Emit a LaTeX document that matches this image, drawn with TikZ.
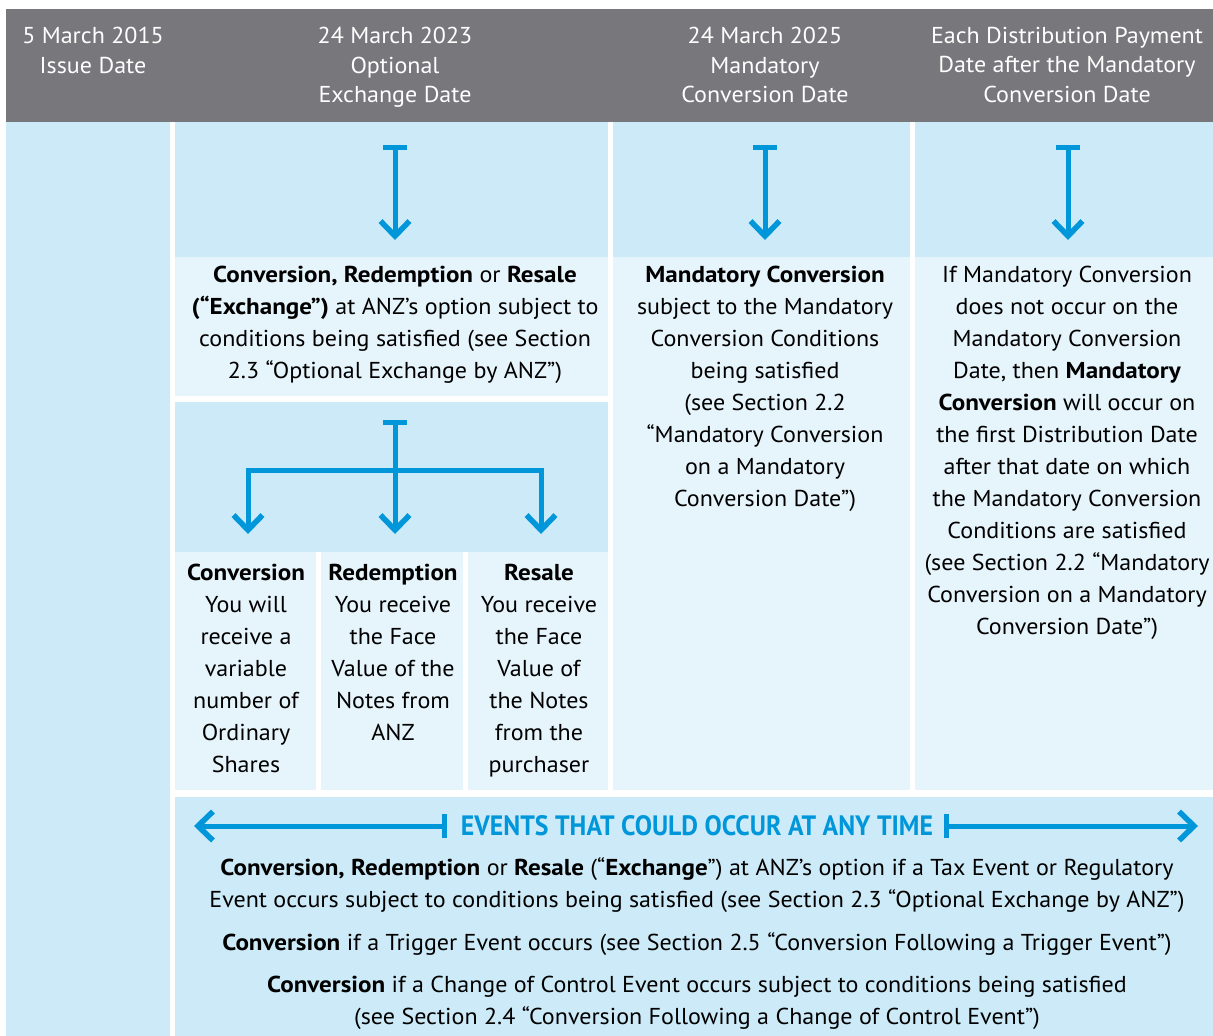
\documentclass[tikz,border=0pt]{standalone}
\usepackage{fontspec}
\setmainfont{PT Sans}[FakeStretch=1.045, BoldFeatures={FakeStretch=1.09}]
\newfontfamily\evfont{PT Sans}[FakeStretch=0.92]
\usetikzlibrary{arrows.meta}
\definecolor{hdrgray}{HTML}{77777C}
\definecolor{bluedark}{HTML}{CCEAF7}
\definecolor{bluelight}{HTML}{E6F4FB}
\definecolor{arrowblue}{HTML}{0096DA}
\tikzset{
  region/.style={draw=none, inner sep=0pt, outer sep=0pt, anchor=north west},
  hdrtext/.style={text=white, align=center, inner sep=0pt, anchor=north, font=\fontsize{23}{29.5}\selectfont},
  bodytext/.style={text=black, align=center, inner sep=0pt, anchor=north, font=\fontsize{23}{32}\selectfont},
  arrowline/.style={draw=arrowblue, line width=5pt},
  flowarrow/.style={arrowline, {Bar[width=24pt,line width=5pt]}-{Straight Barb[length=15pt,width=29pt,line width=5.5pt]}},
}
\begin{document}
\begin{tikzpicture}[x=1pt,y=-1pt]
\useasboundingbox[fill=white] (0,0) rectangle (1213,1036);
% regions
\node[region, fill=hdrgray, minimum width=1207pt, minimum height=113pt] (hdr) at (6,9) {};
\node[region, fill=bluedark, minimum width=164pt, minimum height=914pt] (leftcol) at (6,122) {};
\node[region, fill=bluedark, minimum width=433pt, minimum height=135pt] (c2arrow) at (175,122) {};
\node[region, fill=bluelight, minimum width=433pt, minimum height=139pt] (c2text) at (175,257) {};
\node[region, fill=bluedark, minimum width=433pt, minimum height=150pt] (c2branch) at (175,402) {};
\node[region, fill=bluelight, minimum width=141pt, minimum height=238pt] (sub1) at (175,552) {};
\node[region, fill=bluelight, minimum width=142pt, minimum height=238pt] (sub2) at (321,552) {};
\node[region, fill=bluelight, minimum width=140pt, minimum height=238pt] (sub3) at (468,552) {};
\node[region, fill=bluedark, minimum width=297pt, minimum height=135pt] (c3arrow) at (613,122) {};
\node[region, fill=bluelight, minimum width=297pt, minimum height=533pt] (c3text) at (613,257) {};
\node[region, fill=bluedark, minimum width=298pt, minimum height=135pt] (c4arrow) at (915,122) {};
\node[region, fill=bluelight, minimum width=298pt, minimum height=533pt] (c4text) at (915,257) {};
\node[region, fill=bluedark, minimum width=1038pt, minimum height=239pt] (bottom) at (175,797) {};
% header texts
\node[hdrtext] (h1) at (93,27) {5 March 2015\\Issue Date};
\node[hdrtext] (h2) at (395,27) {24 March 2023\\Optional\\Exchange Date};
\node[hdrtext] (h3) at (765,27) {24 March 2025\\Mandatory\\Conversion Date};
\node[hdrtext] (h4) at (1067,27) {Each Distribution Payment\\Date after the Mandatory\\Conversion Date};
% top arrows
\coordinate (a2s) at (395,145); \coordinate (a2e) at (395,240);
\coordinate (a3s) at (765,145); \coordinate (a3e) at (765,240);
\coordinate (a4s) at (1068,145); \coordinate (a4e) at (1068,240);
\draw[flowarrow] (a2s) -- (a2e);
\draw[flowarrow] (a3s) -- (a3e);
\draw[flowarrow] (a4s) -- (a4e);
% column texts
\node[bodytext] (t2) at (395,266) {\textbf{Conversion, Redemption} or \textbf{Resale}\\
\textbf{(“Exchange”)} at ANZ’s option subject to\\
conditions being satisfied (see Section\\
2.3 “Optional Exchange by ANZ”)};
\node[bodytext] (t3) at (765,266) {\textbf{Mandatory Conversion}\\
subject to the Mandatory\\
Conversion Conditions\\
being satisfied\\
(see Section 2.2\\
“Mandatory Conversion\\
on a Mandatory\\
Conversion Date”)};
\node[bodytext] (t4) at (1067,266) {If Mandatory Conversion\\
does not occur on the\\
Mandatory Conversion\\
Date, then \textbf{Mandatory}\\
\textbf{Conversion} will occur on\\
the first Distribution Date\\
after that date on which\\
the Mandatory Conversion\\
Conditions are satisfied\\
(see Section 2.2 “Mandatory\\
Conversion on a Mandatory\\
Conversion Date”)};
% branch arrows
\coordinate (b0) at (395,420);
\coordinate (bm) at (395,470);
\coordinate (bl) at (248,470);
\coordinate (br) at (541,470);
\coordinate (ble) at (248,534);
\coordinate (bce) at (395,534);
\coordinate (bre) at (541,534);
\draw[flowarrow] (b0) -- (bce);
\draw[arrowline, line join=miter, {Straight Barb[length=15pt,width=29pt,line width=5.5pt]}-{Straight Barb[length=15pt,width=29pt,line width=5.5pt]}] (ble) -- (bl) -- (br) -- (bre);
% sub texts
\node[bodytext] (s1) at (246,564) {\textbf{Conversion}\\You will\\receive a\\variable\\number of\\Ordinary\\Shares};
\node[bodytext] (s2) at (393,564) {\textbf{Redemption}\\You receive\\the Face\\Value of the\\Notes from\\ANZ};
\node[bodytext] (s3) at (539,564) {\textbf{Resale}\\You receive\\the Face\\Value of\\the Notes\\from the\\purchaser};
% events
\node[inner sep=0pt, text=arrowblue, font=\evfont\bfseries\fontsize{28}{30}\selectfont] (ev) at (697,826) {EVENTS THAT COULD OCCUR AT ANY TIME};
\coordinate (evL) at (447,826); \coordinate (evLt) at (194,826);
\coordinate (evR) at (944,826); \coordinate (evRt) at (1198,826);
\draw[flowarrow] (evL) -- (evLt);
\draw[flowarrow] (evR) -- (evRt);
\node[bodytext] (e1) at (697,857) {\textbf{Conversion, Redemption} or \textbf{Resale} (“\textbf{Exchange}”) at ANZ’s option if a Tax Event or Regulatory\\
Event occurs subject to conditions being satisfied (see Section 2.3 “Optional Exchange by ANZ”)};
\node[bodytext] (e2) at (697,932) {\textbf{Conversion} if a Trigger Event occurs (see Section 2.5 “Conversion Following a Trigger Event”)};
\node[bodytext] (e3) at (697,976) {\textbf{Conversion} if a Change of Control Event occurs subject to conditions being satisfied\\
(see Section 2.4 “Conversion Following a Change of Control Event”)};
\end{tikzpicture}
\end{document}
